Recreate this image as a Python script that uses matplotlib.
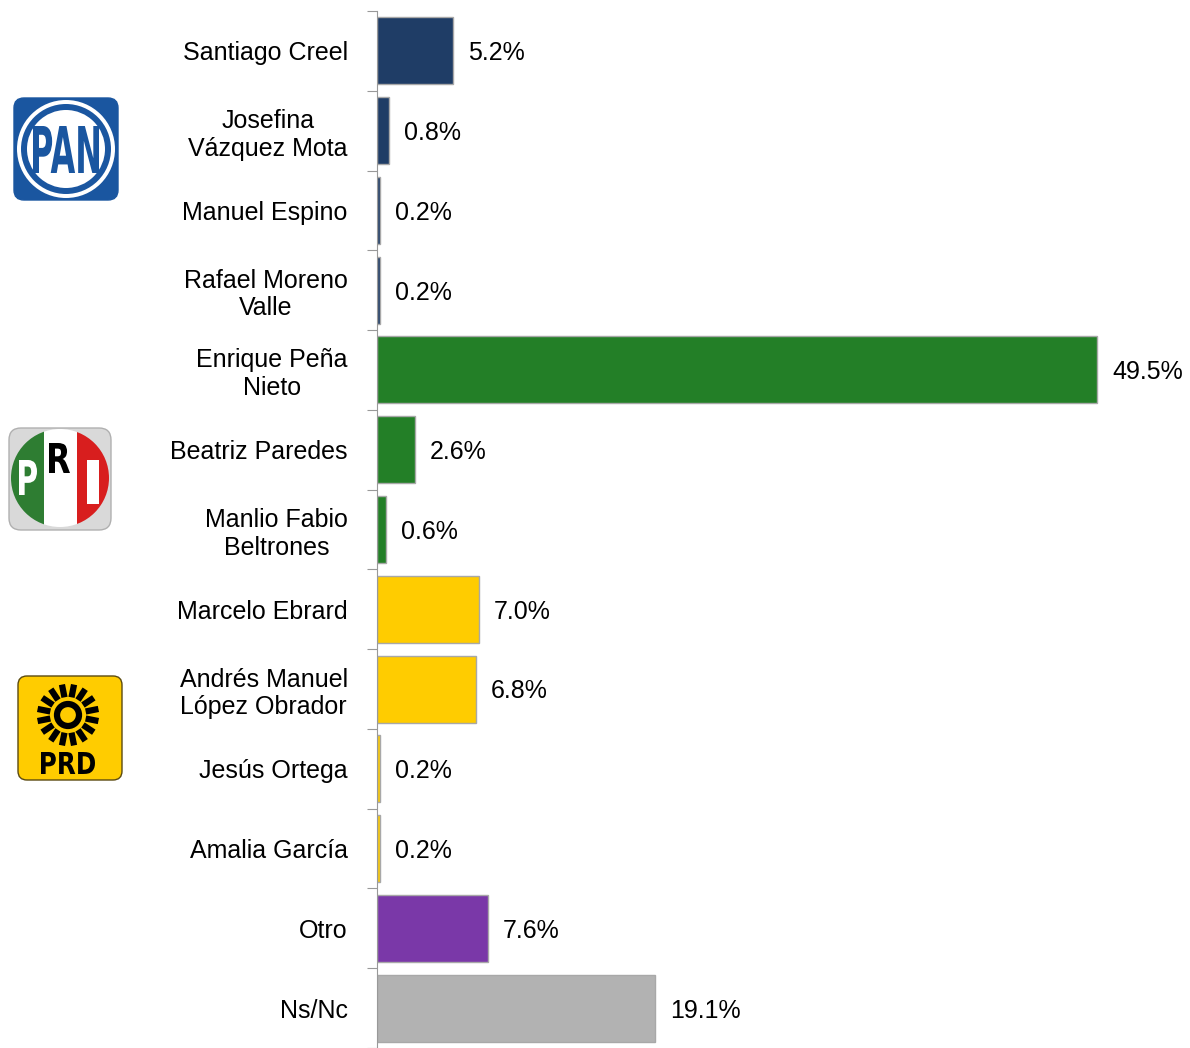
import matplotlib
matplotlib.use('Agg')
import matplotlib.pyplot as plt
import numpy as np
from matplotlib.patches import FancyBboxPatch, Circle, Rectangle, PathPatch
from matplotlib.textpath import TextPath
from matplotlib.font_manager import FontProperties
from matplotlib.transforms import Affine2D

plt.rcParams['font.family'] = ['Liberation Sans', 'DejaVu Sans']

# data
names = ['Santiago Creel', 'Josefina\nVázquez Mota', 'Manuel Espino', 'Rafael Moreno\nValle',
         'Enrique Peña\nNieto', 'Beatriz Paredes', 'Manlio Fabio\nBeltrones', 'Marcelo Ebrard',
         'Andrés Manuel\nLópez Obrador', 'Jesús Ortega', 'Amalia García', 'Otro', 'Ns/Nc']
values = [5.2, 0.8, 0.2, 0.2, 49.5, 2.6, 0.6, 7.0, 6.8, 0.2, 0.2, 7.6, 19.1]
colors = ['#1f3d66'] * 4 + ['#237f27'] * 3 + ['#ffcc00'] * 4 + ['#7a38a8', '#b2b2b2']

W, H = 1190, 1048
fig = plt.figure(figsize=(W / 100, H / 100), dpi=100)
ax = fig.add_axes([377 / W, 0, 800 / W, 1 - 11 / H])

y = np.arange(len(names))
ax.barh(y, values, height=0.84, color=colors, edgecolor='#a8a8a8', linewidth=1)
for yi, v in zip(y, values):
    ax.text(v + 1.05, yi + 0.03, f'{v:.1f}%', va='center', ha='left', fontsize=18)

ax.set_xlim(0, 55)
ax.set_ylim(len(names) - 0.5, -0.5)
ax.set_xticks([])
ax.set_yticks(np.arange(-0.5, len(names), 1))
ax.set_yticklabels([])
ax.set_yticks(y, minor=True)
ax.set_yticklabels(names, minor=True, fontsize=18, multialignment='center')
ax.tick_params(axis='y', which='major', length=7, color='#999999', direction='out')
ax.tick_params(axis='y', which='minor', length=0, pad=21)
for s in ['top', 'right', 'bottom']:
    ax.spines[s].set_visible(False)
ax.spines['left'].set_color('#999999')


def logo_ax(x0, y0, w, h):
    a = fig.add_axes([x0 / W, 1 - (y0 + h) / H, w / W, h / H])
    a.set_xlim(0, w)
    a.set_ylim(0, h)
    a.axis('off')
    return a


def fit_text(a, s, x0, y0, w, h, color):
    # squeeze a bold glyph string into the box (x0, y0, w, h)
    tp = TextPath((0, 0), s, size=50, prop=FontProperties(family='DejaVu Sans', weight='bold'))
    ext = tp.get_extents()
    tr = (Affine2D().translate(-ext.x0, -ext.y0)
          .scale(w / ext.width, h / ext.height).translate(x0, y0))
    a.add_patch(PathPatch(tr.transform_path(tp), fc=color, ec='none'))


# PAN
a = logo_ax(12, 94, 110, 108)
blue = '#1a56a0'
a.add_patch(FancyBboxPatch((2, 2), 104, 102, boxstyle='round,pad=0,rounding_size=10',
                           fc=blue, ec=blue))
a.add_patch(Circle((54, 53), 49, fc='white'))
a.add_patch(Circle((54, 53), 45, fc=blue))
a.add_patch(Circle((54, 53), 39, fc='white'))
fit_text(a, 'PAN', 21, 29, 66, 47, blue)

# PRI
a = logo_ax(7, 424, 106, 108)
a.add_patch(FancyBboxPatch((2, 2), 102, 102, boxstyle='round,pad=0,rounding_size=12',
                           fc='#d9d9d9', ec='#b0b0b0'))
c = Circle((53, 54), 49, fc='none', ec='none')
a.add_patch(c)
for x0, col in [(4, '#2e7d32'), (37, 'white'), (70, '#d81e1e')]:
    r = Rectangle((x0, 2), 33, 104, fc=col, ec='none')
    a.add_patch(r)
    r.set_clip_path(c)
fit_text(a, 'P', 12, 37, 18, 35, 'white')
fit_text(a, 'R', 42, 59, 21, 30, 'black')
a.add_patch(Rectangle((80, 28), 12, 44, fc='white', ec='none'))

# PRD
a = logo_ax(16, 674, 108, 108)
a.add_patch(FancyBboxPatch((2, 2), 104, 104, boxstyle='round,pad=0,rounding_size=9',
                           fc='#ffcc00', ec='#5a4a10', lw=1))
cx, cy = 52, 67
a.add_patch(Circle((cx, cy), 11, fc='none', ec='black', lw=4.5))
for k, ang in enumerate(np.linspace(0, 2 * np.pi, 16, endpoint=False) + np.pi / 16):
    r1, r2 = 18, 31
    a.plot([cx + r1 * np.cos(ang), cx + r2 * np.cos(ang)],
           [cy + r1 * np.sin(ang), cy + r2 * np.sin(ang)], color='black', lw=4.5,
           solid_capstyle='butt')
fit_text(a, 'PRD', 25, 8, 54, 22, 'black')

fig.savefig('out.png', dpi=100)
